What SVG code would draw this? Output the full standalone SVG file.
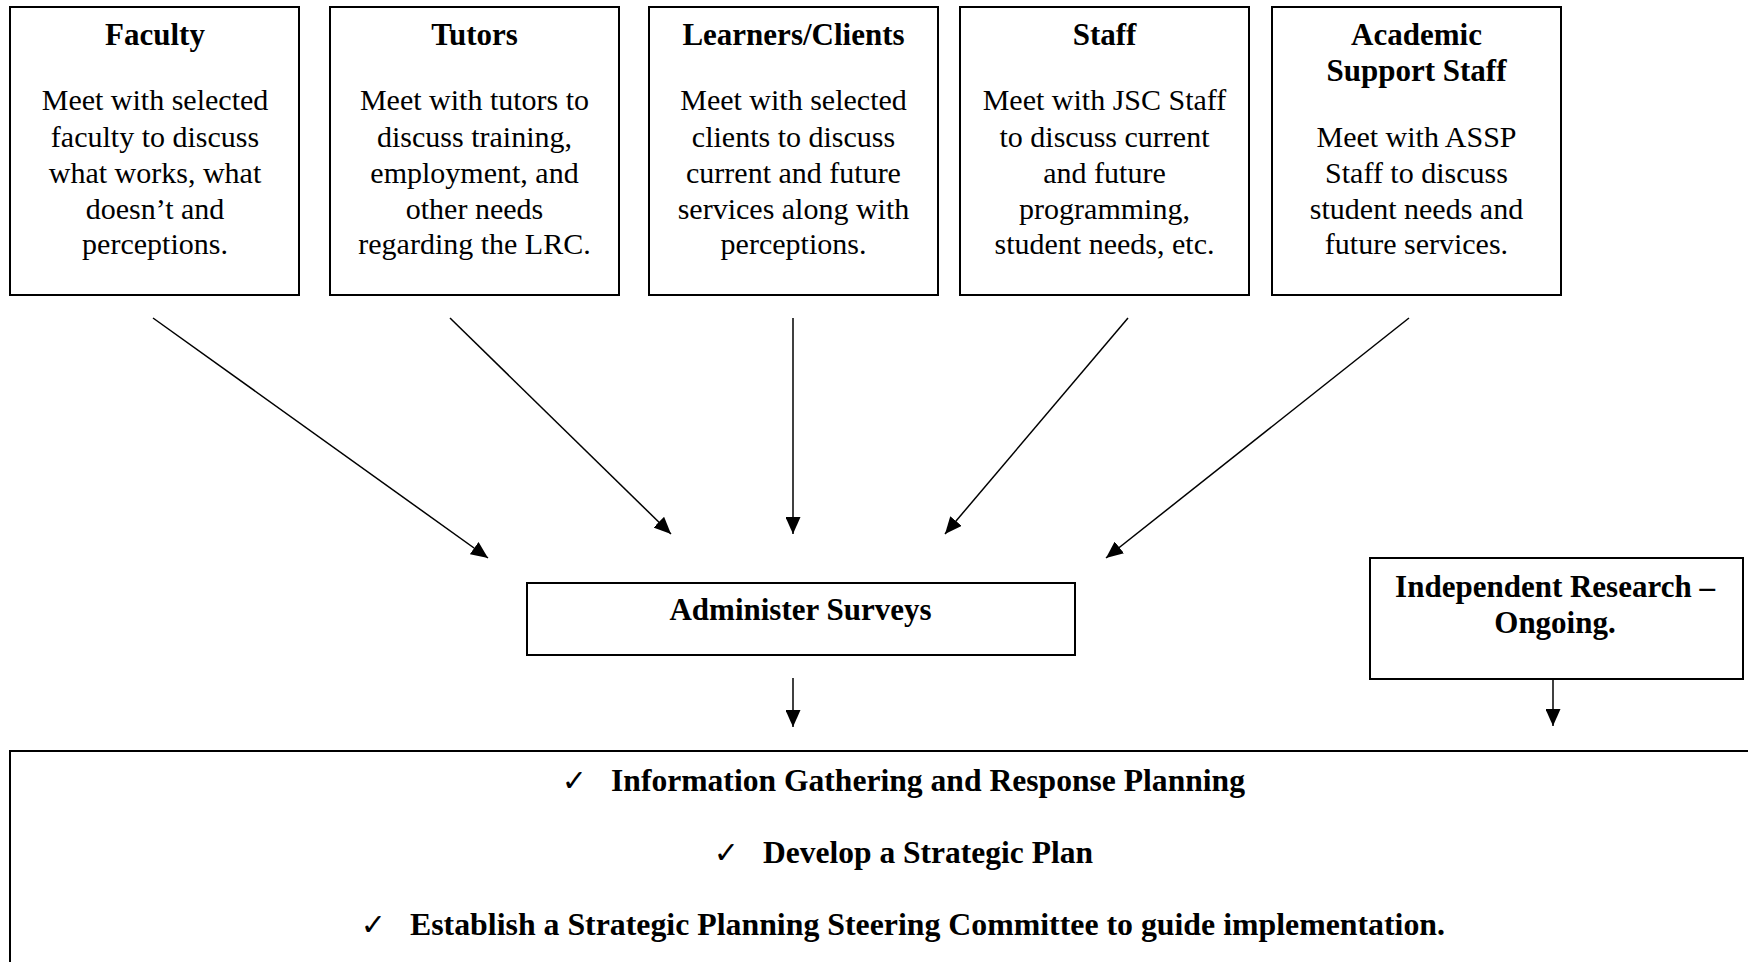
<svg xmlns="http://www.w3.org/2000/svg" width="1748" height="962" viewBox="0 0 1748 962">
  <style>
    .box { fill: #ffffff; stroke: #000000; stroke-width: 2; }
    .title { font-family: "Liberation Serif", "Times New Roman", serif; font-weight: bold; font-size: 31px; fill: #000; text-anchor: middle; }
    .body { font-family: "Liberation Serif", "Times New Roman", serif; font-size: 30px; fill: #000; text-anchor: middle; }
    .item { font-family: "Liberation Serif", "Times New Roman", serif; font-weight: bold; font-size: 31px; fill: #000; }
    .tick { font-family: "DejaVu Sans", sans-serif; font-size: 30px; fill: #000; text-anchor: end; }
    .conn { stroke: #000000; stroke-width: 1.5; fill: none; marker-end: url(#ah); }
  </style>
  <defs>
    <marker id="ah" markerWidth="17" markerHeight="15" refX="17" refY="7.5" orient="auto" markerUnits="userSpaceOnUse">
      <path d="M0,0 L17,7.5 L0,15 Z" fill="#000000"/>
    </marker>
  </defs>
  <rect x="0" y="0" width="1748" height="962" fill="#ffffff"/>

  <!-- stakeholder boxes -->
  <g id="faculty">
    <rect class="box" x="10" y="7" width="289" height="288"/>
    <text class="title" x="155" y="45">Faculty</text>
    <text class="body" x="155" y="110">Meet with selected</text>
    <text class="body" x="155" y="146.5">faculty to discuss</text>
    <text class="body" x="155" y="182.5">what works, what</text>
    <text class="body" x="155" y="218.5">doesn’t and</text>
    <text class="body" x="155" y="254">perceptions.</text>
  </g>
  <g id="tutors">
    <rect class="box" x="330" y="7" width="289" height="288"/>
    <text class="title" x="474.5" y="45">Tutors</text>
    <text class="body" x="474.5" y="110">Meet with tutors to</text>
    <text class="body" x="474.5" y="146.5">discuss training,</text>
    <text class="body" x="474.5" y="182.5">employment, and</text>
    <text class="body" x="474.5" y="218.5">other needs</text>
    <text class="body" x="474.5" y="254">regarding the LRC.</text>
  </g>
  <g id="learners">
    <rect class="box" x="649" y="7" width="289" height="288"/>
    <text class="title" x="793.5" y="45">Learners/Clients</text>
    <text class="body" x="793.5" y="110">Meet with selected</text>
    <text class="body" x="793.5" y="146.5">clients to discuss</text>
    <text class="body" x="793.5" y="182.5">current and future</text>
    <text class="body" x="793.5" y="218.5">services along with</text>
    <text class="body" x="793.5" y="254">perceptions.</text>
  </g>
  <g id="staff">
    <rect class="box" x="960" y="7" width="289" height="288"/>
    <text class="title" x="1104.5" y="45">Staff</text>
    <text class="body" x="1104.5" y="110">Meet with JSC Staff</text>
    <text class="body" x="1104.5" y="146.5">to discuss current</text>
    <text class="body" x="1104.5" y="182.5">and future</text>
    <text class="body" x="1104.5" y="218.5">programming,</text>
    <text class="body" x="1104.5" y="254">student needs, etc.</text>
  </g>
  <g id="academic-support">
    <rect class="box" x="1272" y="7" width="289" height="288"/>
    <text class="title" x="1416.5" y="45">Academic</text>
    <text class="title" x="1416.5" y="81">Support Staff</text>
    <text class="body" x="1416.5" y="146.5">Meet with ASSP</text>
    <text class="body" x="1416.5" y="182.5">Staff to discuss</text>
    <text class="body" x="1416.5" y="218.5">student needs and</text>
    <text class="body" x="1416.5" y="254">future services.</text>
  </g>

  <!-- survey and research steps -->
  <g id="surveys">
    <rect class="box" x="527" y="583" width="548" height="72"/>
    <text class="title" x="800.5" y="620">Administer Surveys</text>
  </g>
  <g id="research">
    <rect class="box" x="1370" y="558" width="373" height="121"/>
    <text class="title" x="1555" y="597">Independent Research –</text>
    <text class="title" x="1555" y="633">Ongoing.</text>
  </g>

  <!-- outcomes panel -->
  <g id="outcomes">
    <rect class="box" x="10" y="751" width="1760" height="260"/>
    <text class="tick" x="587" y="791">✓</text>
    <text class="item" x="611" y="791" textLength="634" lengthAdjust="spacingAndGlyphs">Information Gathering and Response Planning</text>
    <text class="tick" x="739" y="863">✓</text>
    <text class="item" x="763" y="863" textLength="330" lengthAdjust="spacingAndGlyphs">Develop a Strategic Plan</text>
    <text class="tick" x="386" y="935">✓</text>
    <text class="item" x="410" y="935" textLength="1035" lengthAdjust="spacingAndGlyphs">Establish a Strategic Planning Steering Committee to guide implementation.</text>
  </g>

  <!-- connectors -->
  <g id="connectors">
    <line class="conn" x1="153" y1="318" x2="488" y2="558"/>
    <line class="conn" x1="450" y1="318" x2="671" y2="534"/>
    <line class="conn" x1="793" y1="318" x2="793" y2="534"/>
    <line class="conn" x1="1128" y1="318" x2="945" y2="534"/>
    <line class="conn" x1="1409" y1="318" x2="1106" y2="558"/>
    <line class="conn" x1="793" y1="678" x2="793" y2="727"/>
    <line class="conn" x1="1553" y1="679" x2="1553" y2="726"/>
  </g>
</svg>
